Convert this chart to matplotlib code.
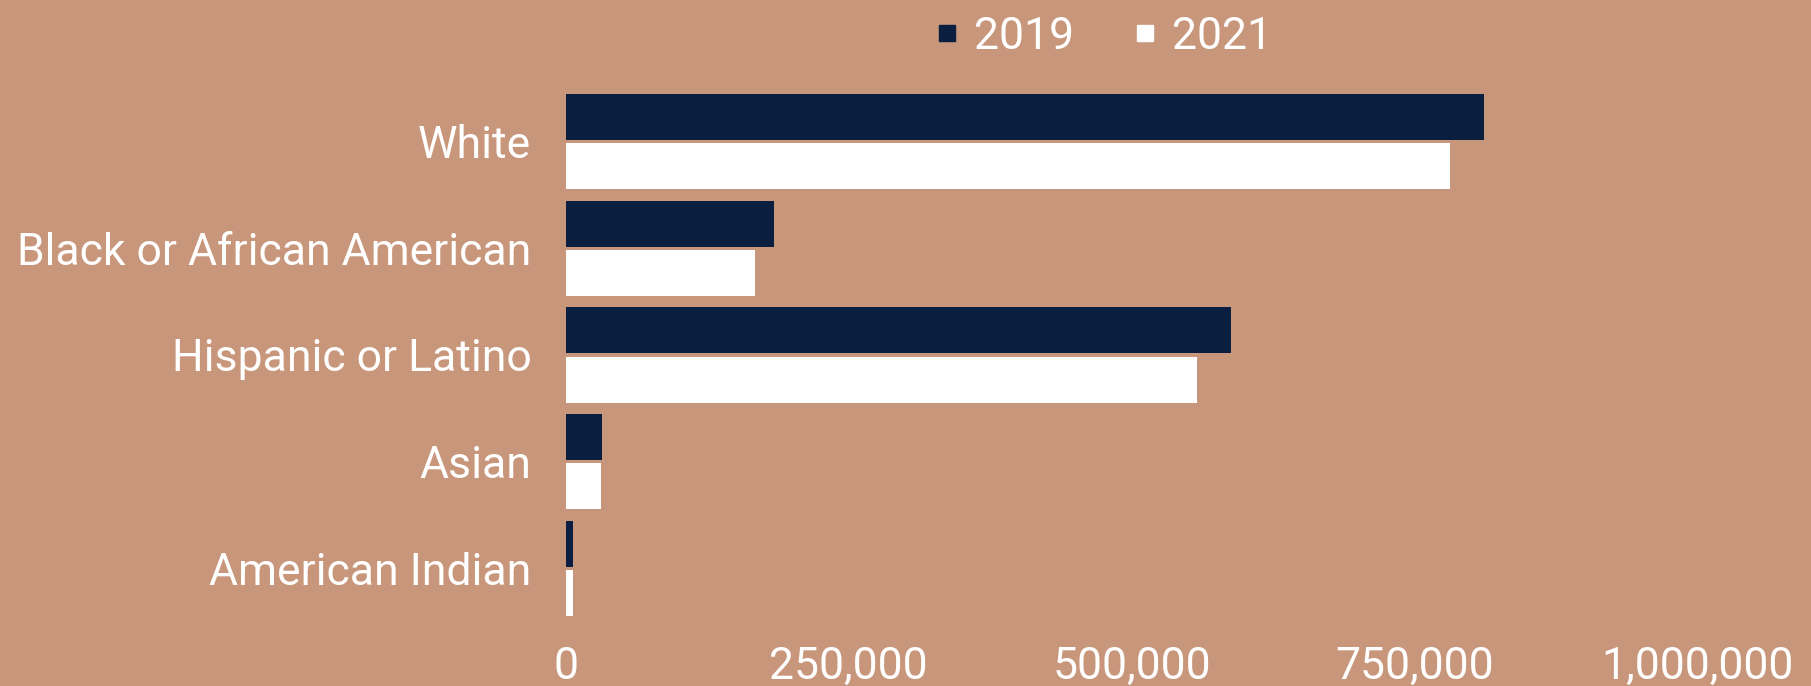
import matplotlib.pyplot as plt
import numpy as np
from matplotlib.ticker import FuncFormatter
from matplotlib.lines import Line2D

# data
groups = ['White', 'Black or African American', 'Hispanic or Latino', 'Asian', 'American Indian']
vals_2019 = [812000, 184000, 588000, 32000, 6000]
vals_2021 = [782000, 167000, 558000, 31000, 6000]
years = ['2019', '2021']
xticks = [0, 250000, 500000, 750000, 1000000]

bg = '#C8967B'
navy = '#0A1E3F'

plt.rcParams['font.family'] = ['Roboto', 'DejaVu Sans']

fig = plt.figure(figsize=(18.11, 6.86), dpi=100, facecolor=bg)
ax = fig.add_axes([566/1811, 1-622/686, (1697-566)/1811, (622-88)/686])
ax.set_facecolor(bg)

y = np.arange(len(groups))
h = 0.43
ax.barh(y - h/2 - 0.015, vals_2019, height=h, color=navy)
ax.barh(y + h/2 + 0.015, vals_2021, height=h, color='white')

ax.set_ylim(len(groups) - 0.5, -0.5)
ax.set_xlim(0, 1000000)
ax.set_yticks(y)
ax.set_yticklabels(groups, fontsize=32, color='white')
ax.set_xticks(xticks)
ax.xaxis.set_major_formatter(FuncFormatter(lambda v, p: f'{int(v):,}'))
ax.tick_params(axis='x', labelsize=32, colors='white', length=0, pad=17.5)
ax.tick_params(axis='y', length=0, pad=25)
for s in ax.spines.values():
    s.set_visible(False)

handles = [Line2D([], [], ls='none', marker='s', markersize=11, color=c) for c in (navy, 'white')]
leg = fig.legend(handles, years, loc='center', bbox_to_anchor=(1105/1811, 1-37/686), ncol=2,
                 frameon=False, fontsize=32, handlelength=0.4, handletextpad=0.4,
                 columnspacing=1.4)
for t in leg.get_texts():
    t.set_color('white')

fig.savefig('out.png', dpi=100, facecolor=bg)
